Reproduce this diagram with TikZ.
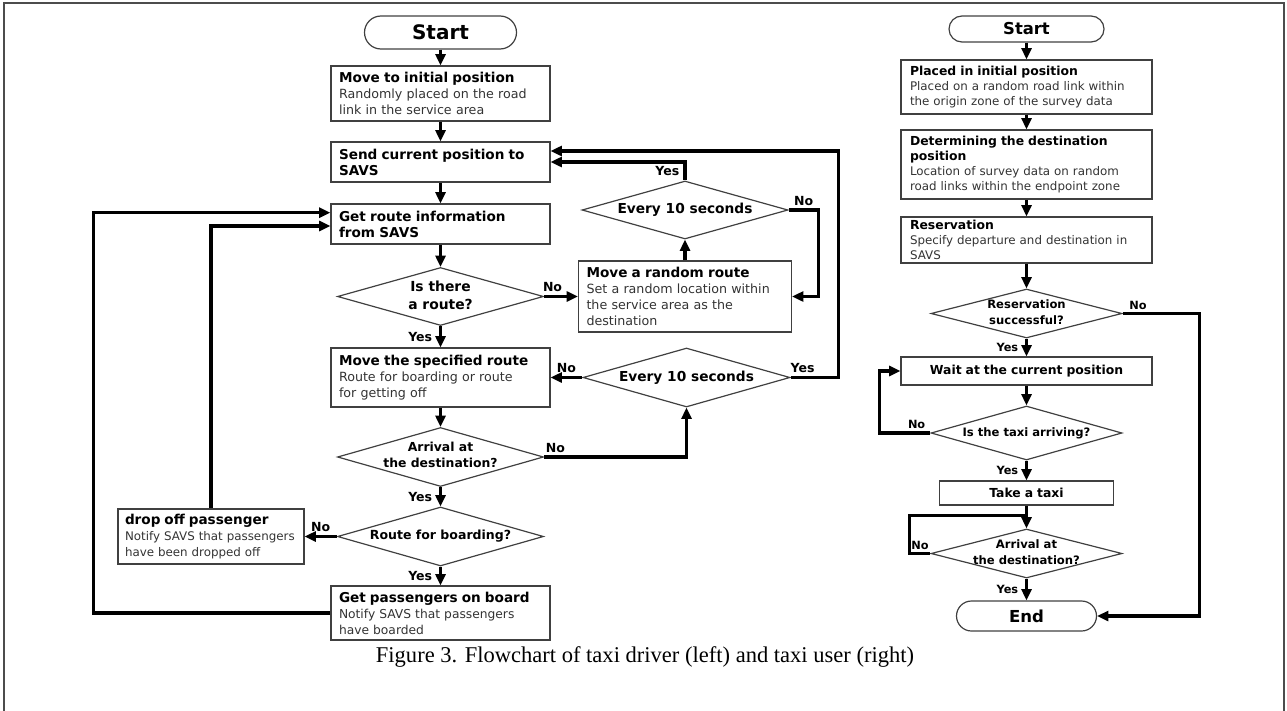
\documentclass[tikz,border=0pt]{standalone}
\usepackage{fontspec}
\setmainfont{Liberation Serif}
\newfontfamily\dv{DejaVu Sans}
\usetikzlibrary{arrows.meta,shapes.geometric,shapes.misc,calc}
\newdimen\pxu \pxu=0.75pt
\newcommand\hdL[1]{{\bfseries\color{black}\fontsize{10.2pt}{12pt}\selectfont #1}}
\newcommand\hdR[1]{{\bfseries\color{black}\fontsize{9.3pt}{11.2pt}\selectfont #1}}
\tikzset{
 boxL/.style={draw=black!75, line width=0.9pt, rectangle, inner xsep=8\pxu, inner ysep=0pt, align=left, text=black!80, font=\dv\fontsize{9.5pt}{12pt}\selectfont, minimum width=219\pxu, text width=203\pxu},
 boxR/.style={draw=black!75, line width=0.9pt, rectangle, inner xsep=9\pxu, inner ysep=0pt, align=left, text=black!80, font=\dv\fontsize{8.9pt}{11.4pt}\selectfont, minimum width=251\pxu, text width=233\pxu},
 term/.style={draw=black!75, line width=0.9pt, rounded rectangle, inner sep=0pt},
 dia/.style={draw=black!75, line width=0.9pt, diamond, inner sep=0pt},
 dtxtL/.style={align=center, inner sep=0pt, font=\dv\bfseries\fontsize{10.3pt}{12.5pt}\selectfont},
 dtxtR/.style={align=center, inner sep=0pt, font=\dv\bfseries\fontsize{8.7pt}{12pt}\selectfont},
 conn/.style={line width=2.5pt, -{Triangle[length=8.5pt,width=7.5pt]}},
 wire/.style={line width=2.5pt},
 lblL/.style={font=\dv\bfseries\fontsize{9.4pt}{11pt}\selectfont, inner sep=2pt},
 lblR/.style={font=\dv\bfseries\fontsize{8.5pt}{10pt}\selectfont, inner sep=2pt},
}
\begin{document}
\begin{tikzpicture}[x=0.75pt, y=-0.75pt]
\useasboundingbox (0,0) rectangle (1287,710);
\draw[black!70, line width=1pt] (4,720) -- (4,3) -- (1284,3) -- (1284,720);

% ---------- left flowchart ----------
\node[term, minimum width=152\pxu, minimum height=33\pxu, font=\dv\bfseries\fontsize{15pt}{18pt}\selectfont] (lstart) at (440.5,32.5) {Start};
\node[boxL, minimum height=55\pxu] (lmove) at (440.5,93.5) {\hdL{Move to initial position}\\Randomly placed on the road\\link in the service area};
\node[boxL, minimum height=40\pxu] (lsend) at (440.5,162) {\hdL{Send current position to}\\\hdL{SAVS}};
\node[boxL, minimum height=40\pxu] (lget) at (440.5,224) {\hdL{Get route information}\\\hdL{from SAVS}};
\node[dia, minimum width=206\pxu, minimum height=58\pxu] (lthere) at (440.5,296.5) {};
\node[dtxtL, font=\dv\bfseries\fontsize{10.4pt}{13.5pt}\selectfont] (lthere-t) at (440.5,295) {Is there\\a route?};
\node[boxL, minimum width=213\pxu, text width=197\pxu, minimum height=71\pxu] (lrand) at (685,296.5) {\hdL{Move a random route}\\Set a random location within\\the service area as the\\destination};
\node[dia, minimum width=206\pxu, minimum height=58\pxu] (lt1) at (685,210) {};
\node[dtxtL] (lt1-t) at (lt1) {Every 10 seconds};
\node[boxL, minimum height=59\pxu] (lspec) at (440.5,377.5) {\hdL{Move the specified route}\\Route for boarding or route\\for getting off};
\node[dia, minimum width=207\pxu, minimum height=59\pxu] (lt2) at (686.5,377.5) {};
\node[dtxtL] (lt2-t) at (lt2) {Every 10 seconds};
\node[dia, minimum width=206\pxu, minimum height=59\pxu] (larr) at (440.5,457) {};
\node[dtxtL, font=\dv\bfseries\fontsize{9.3pt}{12pt}\selectfont] (larr-t) at (440.5,455) {Arrival at\\the destination?};
\node[dia, minimum width=206\pxu, minimum height=59\pxu] (lboard) at (440.5,536.5) {};
\node[dtxtL, font=\dv\bfseries\fontsize{9.4pt}{12pt}\selectfont] (lboard-t) at (lboard) {Route for boarding?};
\node[boxL, minimum width=186\pxu, text width=172\pxu, inner xsep=7\pxu, minimum height=55\pxu, font=\dv\fontsize{8.9pt}{12pt}\selectfont] (ldrop) at (211,536.5) {\hdL{drop off passenger}\\Notify SAVS that passengers\\have been dropped off};
\node[boxL, minimum height=54\pxu, font=\dv\fontsize{9.2pt}{12pt}\selectfont] (lgetp) at (440.5,613) {\hdL{Get passengers on board}\\Notify SAVS that passengers\\have boarded};

\draw[conn] (lstart.south) -- (lmove.north);
\draw[conn] (lmove.south) -- (lsend.north);
\draw[conn] (lsend.south) -- (lget.north);
\draw[conn] (lget.south) -- (lthere.north);
\draw[conn] (lthere.south) -- node[lblL, left=3pt] {Yes} (lspec.north);
\draw[conn] (lthere.east) -- node[lblL, above, pos=0.25] {No} (lrand.west);
\draw[conn] (lrand.north) -- (lt1.south);
\draw[conn] (lt1.north) |- node[lblL, left=1pt, pos=0.25] {Yes} (lsend.east);
\draw[conn] (lt1.east) -- node[lblL, above] {No} ++(30,0) |- (lrand.east);
\draw[conn] (lt2.east) -- node[lblL, above, pos=0.25] {Yes} ++(48,0) |- ($(lsend.east)+(0,-11)$);
\draw[conn] (lt2.west) -- node[lblL, above] {No} (lspec.east);
\draw[conn] (lspec.south) -- (larr.north);
\draw[conn] (larr.east) -| node[lblL, above, pos=0.04] {No} (lt2.south);
\draw[conn] (larr.south) -- node[lblL, left=3pt] {Yes} (lboard.north);
\draw[conn] (lboard.west) -- node[lblL, above] {No} (ldrop.east);
\draw[conn] (lboard.south) -- node[lblL, left=3pt] {Yes} (lgetp.north);
\draw[conn] (ldrop.north) |- ($(lget.west)+(0,2)$);
\draw[conn] (lgetp.west) -- ++(-237,0) |- ($(lget.west)+(0,-11.3)$);

% ---------- right flowchart ----------
\node[term, minimum width=155\pxu, minimum height=26\pxu, font=\dv\bfseries\fontsize{12.3pt}{14pt}\selectfont] (rstart) at (1026.5,29) {Start};
\node[boxR, minimum height=54\pxu] (rplace) at (1026.5,87) {\hdR{Placed in initial position}\\Placed on a random road link within\\the origin zone of the survey data};
\node[boxR, minimum height=69\pxu] (rdet) at (1026.5,164.5) {\hdR{Determining the destination}\\\hdR{position}\\Location of survey data on random\\road links within the endpoint zone};
\node[boxR, minimum height=46\pxu] (rres) at (1026.5,240) {\hdR{Reservation}\\Specify departure and destination in\\SAVS};
\node[dia, minimum width=191\pxu, minimum height=49\pxu] (rresd) at (1026.5,313.5) {};
\node[dtxtR] (rresd-t) at (1026.5,312) {Reservation\\successful?};
\node[boxR, minimum height=28\pxu, align=center] (rwait) at (1026.5,371) {\hdR{Wait at the current position}};
\node[dia, minimum width=191\pxu, minimum height=54\pxu] (rtaxi) at (1026.5,433) {};
\node[dtxtR] (rtaxi-t) at (rtaxi) {Is the taxi arriving?};
\node[boxR, minimum width=174\pxu, text width=158\pxu, inner xsep=8\pxu, minimum height=24\pxu, align=center] (rtake) at (1026.5,493) {\hdR{Take a taxi}};
\node[dia, minimum width=191\pxu, minimum height=49\pxu] (rarr) at (1026.5,553.5) {};
\node[dtxtR] (rarr-t) at (1026.5,552) {Arrival at\\the destination?};
\node[term, minimum width=140\pxu, minimum height=30\pxu, font=\dv\bfseries\fontsize{12.4pt}{14pt}\selectfont] (rend) at (1026.5,616) {End};
\coordinate (rjoin) at (1026.5,515.7);

\draw[conn] (rstart.south) -- (rplace.north);
\draw[conn] (rplace.south) -- (rdet.north);
\draw[conn] (rdet.south) -- (rres.north);
\draw[conn] (rres.south) -- (rresd.north);
\draw[conn] (rresd.south) -- node[lblR, left=3pt] {Yes} (rwait.north);
\draw[conn] (rresd.east) -- node[lblR, above, pos=0.2] {No} ++(77,0) |- (rend.east);
\draw[conn] (rwait.south) -- (rtaxi.north);
\draw[conn] (rtaxi.west) -- node[lblR, above, pos=0.27] {No} ++(-51,0) |- (rwait.west);
\draw[conn] (rtaxi.south) -- node[lblR, left=3pt] {Yes} (rtake.north);
\draw[conn] (rtake.south) -- (rarr.north);
\draw[wire] (rarr.west) -- node[lblR, above] {No} ++(-21,0) |- (rjoin);
\draw[conn] (rarr.south) -- node[lblR, left=3pt] {Yes} (rend.north);

% ---------- caption ----------
\node[font=\fontsize{16.9pt}{19pt}\selectfont] (cap) at (645,657) {Figure 3. Flowchart of taxi driver (left) and taxi user (right)};
\end{tikzpicture}
\end{document}
